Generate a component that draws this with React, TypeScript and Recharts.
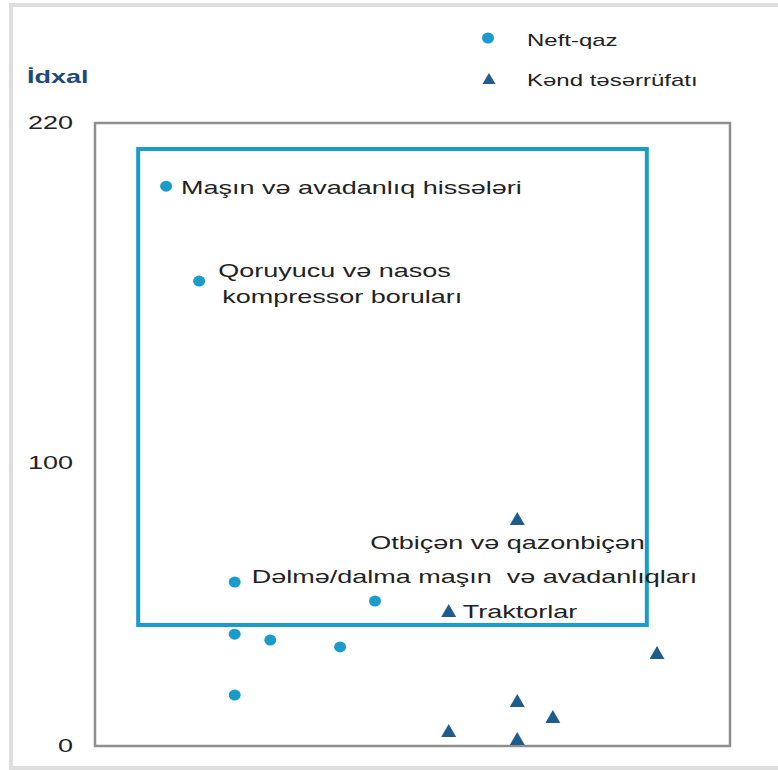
import { ScatterChart, Scatter, XAxis, YAxis, ReferenceArea } from 'recharts'

const neftX = [11.2, 16.4, 22.0, 44.1, 22.0, 27.6, 38.6, 22.0]
const neftY = [197.7, 164.2, 57.9, 51.2, 39.5, 37.4, 35.0, 18.0]
const neftLabels = [
    'Maşın və avadanlıq hissələri',
    'Qoruyucu və nasos\nkompressor boruları',
    'Dəlmə/dalma maşın  və avadanlıqları',
    '', '', '', '', '',
]

const kendX = [66.5, 55.7, 88.5, 66.5, 72.1, 55.7, 66.5]
const kendY = [80.2, 47.7, 32.8, 15.9, 10.2, 5.3, 2.5]
const kendLabels = ['Otbiçən və qazonbiçən', 'Traktorlar', '', '', '', '', '']

const seriesNames = ['Neft-qaz', 'Kənd təsərrüfatı']
const axisTitle = 'İdxal'
const yTicks = [0, 100, 220]
const xDomain = [0, 100]
const yDomain = [0, 220]
// highlighted region (data units)
const boxX = [6.8, 86.9]
const boxY = [42.7, 210.8]

const NEFT = '#1b9bc9'
const KEND = '#1f5c8b'
const FONT = "'Liberation Sans', Arial, sans-serif"

// label offsets from the point, one pair per line
const labelOffsets: Record<string, [number, number][]> = {
    'Maşın və avadanlıq hissələri': [[15, 2]],
    'Qoruyucu və nasos\nkompressor boruları': [[19, -10], [23, 16]],
    'Dəlmə/dalma maşın  və avadanlıqları': [[17, -5]],
    'Otbiçən və qazonbiçən': [[-147, 24]],
    'Traktorlar': [[14, 1]],
}

const neftData = neftX.map((x, i) => ({ x, y: neftY[i], label: neftLabels[i] }))
const kendData = kendX.map((x, i) => ({ x, y: kendY[i], label: kendLabels[i] }))

function StretchText({ x, y, children, anchor = 'start', size = 18, weight = 400, fill = '#222' }: any) {
    return (
        <g transform={`translate(${x},${y}) scale(1.5,1)`}>
            <text
                x={0}
                y={0}
                dy="0.35em"
                textAnchor={anchor}
                fontSize={size}
                fontWeight={weight}
                fontFamily={FONT}
                fill={fill}
                style={{ whiteSpace: 'pre' }}
            >
                {children}
            </text>
        </g>
    )
}

function PointLabel({ label, cx, cy }: { label: string; cx: number; cy: number }) {
    if (!label) return null
    const offs = labelOffsets[label] || [[12, 0]]
    return (
        <>
            {label.split('\n').map((line, i) => (
                <StretchText key={i} x={cx + offs[i][0]} y={cy + offs[i][1]}>
                    {line}
                </StretchText>
            ))}
        </>
    )
}

const triPath = (cx: number, cy: number, w: number, h: number) =>
    `M${cx},${cy - h / 2 - 1} L${cx + w / 2},${cy + h / 2} L${cx - w / 2},${cy + h / 2} Z`

const DotShape = (props: any) => {
    const { cx, cy, payload } = props
    return (
        <g>
            <ellipse cx={cx} cy={cy} rx={6} ry={5.5} fill={NEFT} />
            <PointLabel label={payload.label} cx={cx} cy={cy} />
        </g>
    )
}

const TriShape = (props: any) => {
    const { cx, cy, payload } = props
    return (
        <g>
            <path d={triPath(cx, cy, 15, 12)} fill={KEND} />
            <PointLabel label={payload.label} cx={cx} cy={cy} />
        </g>
    )
}

export default function App() {
    return (
        <div style={{ position: 'absolute', left: 0, top: 0, width: 778, height: 770, overflow: 'hidden', background: '#fff' }}>
            <div
                style={{
                    position: 'absolute',
                    left: 9,
                    top: 3,
                    width: 820,
                    height: 759,
                    border: '4px solid #dedede',
                }}
            />
            <div style={{ position: 'absolute', left: 0, top: 0 }}>
                <ScatterChart width={778} height={770} margin={{ top: 123, right: 48, bottom: 24, left: 0 }}>
                    <XAxis type="number" dataKey="x" domain={xDomain} hide />
                    <YAxis
                        type="number"
                        dataKey="y"
                        domain={yDomain}
                        ticks={yTicks}
                        interval={0}
                        width={95}
                        axisLine={false}
                        tickLine={false}
                        tickSize={0}
                        tickMargin={22}
                        tick={(p: any) => (
                            <StretchText x={p.x} y={p.y} anchor="end">
                                {p.payload.value}
                            </StretchText>
                        )}
                    />
                    <ReferenceArea
                        x1={xDomain[0]}
                        x2={xDomain[1]}
                        y1={yDomain[0]}
                        y2={yDomain[1]}
                        fill="none"
                        stroke="#8f8f8f"
                        strokeWidth={2.5}
                    />
                    <ReferenceArea
                        x1={boxX[0]}
                        x2={boxX[1]}
                        y1={boxY[0]}
                        y2={boxY[1]}
                        fill="none"
                        stroke={NEFT}
                        strokeWidth={4}
                    />
                    <Scatter name={seriesNames[0]} data={neftData} shape={DotShape} isAnimationActive={false} />
                    <Scatter name={seriesNames[1]} data={kendData} shape={TriShape} isAnimationActive={false} />
                </ScatterChart>
            </div>
            {/* legend + axis title */}
            <svg width={778} height={110} style={{ position: 'absolute', left: 0, top: 0, pointerEvents: 'none' }}>
                <ellipse cx={488} cy={38} rx={6} ry={5.5} fill={NEFT} />
                <StretchText x={527} y={40} size={16}>{seriesNames[0]}</StretchText>
                <path d={triPath(489, 79, 13, 10)} fill={KEND} />
                <StretchText x={527} y={80} size={16}>{seriesNames[1]}</StretchText>
                <StretchText x={27} y={77} weight={700} fill="#1f497d">{axisTitle}</StretchText>
            </svg>
        </div>
    )
}
